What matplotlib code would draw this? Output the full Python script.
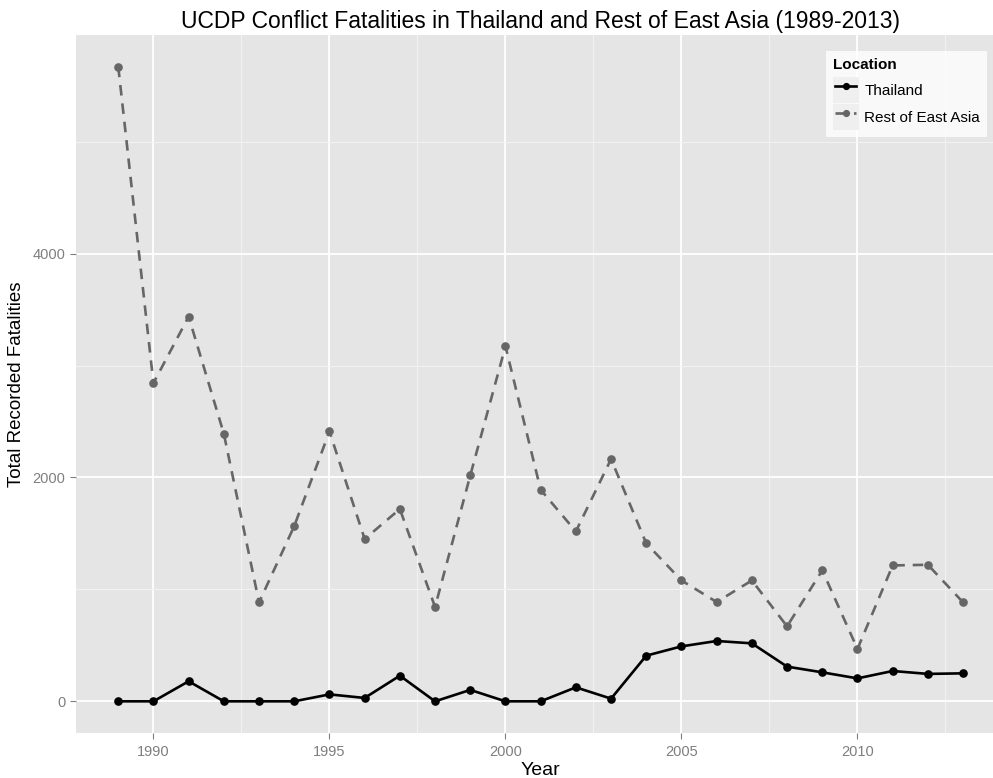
import matplotlib.pyplot as plt
from matplotlib.legend_handler import HandlerLine2D
from matplotlib.patches import Rectangle
from matplotlib.ticker import MultipleLocator

plt.rcParams['font.family'] = ['Liberation Sans', 'DejaVu Sans']

years = list(range(1989, 2014))
thailand = [0, 0, 179, 0, 0, 0, 62, 30, 229, 0, 102, 0, 0, 125, 24,
            408, 491, 539, 518, 310, 259, 205, 271, 245, 250]
rest_east_asia = [5670, 2843, 3437, 2390, 884, 1566, 2411, 1450, 1718, 843,
                  2018, 3172, 1890, 1518, 2164, 1411, 1080, 887, 1080, 670,
                  1170, 468, 1214, 1220, 884]


class KeyHandler(HandlerLine2D):
    # ggplot-style grey square behind each legend key
    def create_artists(self, legend, orig_handle, xdescent, ydescent,
                       width, height, fontsize, trans):
        bg = Rectangle((-xdescent, -ydescent), width, height,
                       facecolor='#efefef', edgecolor='none', transform=trans)
        pad = width * 0.1
        arts = super().create_artists(legend, orig_handle, xdescent - pad,
                                      ydescent, width - 2 * pad, height,
                                      fontsize, trans)
        return [bg] + arts


fig = plt.figure(figsize=(9.93, 7.78), dpi=100)
ax = fig.add_axes([76 / 993, 1 - 733 / 778, (993 - 76) / 993, (733 - 35) / 778])
ax.set_facecolor('#e5e5e5')

ax.plot(years, thailand, color='black', lw=1.9, marker='o', ms=5.2,
        label='Thailand', zorder=3)
ax.plot(years, rest_east_asia, color='#666666', lw=1.9, marker='o', ms=5.2,
        ls=(0, (4, 3)), label='Rest of East Asia', zorder=3)

ax.set_xlim(1987.8, 2013.85)
ax.set_ylim(-283, 5953)
ax.xaxis.set_major_locator(MultipleLocator(5))
ax.xaxis.set_minor_locator(MultipleLocator(2.5))
ax.yaxis.set_major_locator(MultipleLocator(2000))
ax.yaxis.set_minor_locator(MultipleLocator(1000))
ax.grid(which='major', color='white', lw=1.3)
ax.grid(which='minor', color='#f2f2f2', lw=0.8)
ax.set_axisbelow(True)
for s in ax.spines.values():
    s.set_visible(False)
ax.tick_params(which='major', length=4, color='#7f7f7f', labelcolor='#7f7f7f',
               labelsize=10.5)
ax.tick_params(axis='x', which='major', pad=5)
ax.tick_params(which='minor', length=0)

ax.set_xlabel('Year', fontsize=14)
ax.xaxis.set_label_coords(0.506, -0.042)
ax.set_ylabel('Total Recorded Fatalities', fontsize=13.5)
ax.yaxis.set_label_coords(-0.0556, 0.5)
ax.set_title('UCDP Conflict Fatalities in Thailand and Rest of East Asia (1989-2013)',
             fontsize=16.5, x=0.507, pad=5)

leg = ax.legend(title='Location', loc='upper left',
                bbox_to_anchor=(826 / 993, 1 - 51 / 778),
                bbox_transform=fig.transFigure, borderaxespad=0, fontsize=11,
                title_fontproperties={'weight': 'bold', 'size': 11},
                frameon=True, fancybox=False, borderpad=0.45,
                handlelength=1.7, handleheight=2.24, labelspacing=0.07,
                handletextpad=0.35, markerscale=0.8,
                handler_map={plt.Line2D: KeyHandler()})
leg.get_frame().set_edgecolor('none')
leg.get_frame().set_facecolor('white')
leg._legend_box.align = 'left'
leg._legend_box.sep = 4

fig.savefig('out.png', dpi=100)
